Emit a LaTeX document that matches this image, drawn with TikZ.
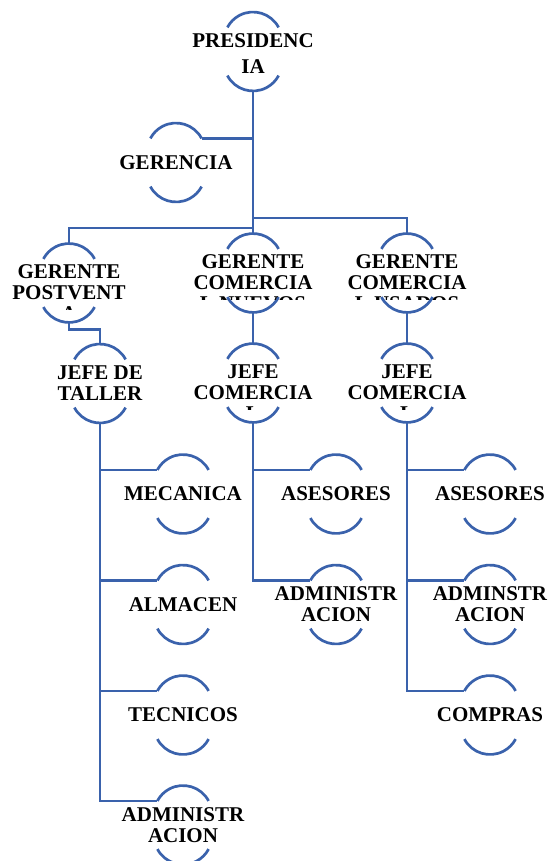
\documentclass[tikz,border=0pt]{standalone}
\usepackage{fontspec}
\setmainfont{Liberation Serif}
\definecolor{orgblue}{HTML}{3A62AC}
\begin{document}
\begin{tikzpicture}[x=1pt,y=1pt,
  orgline/.style={draw=orgblue, line width=2.7pt},
  orgshape/.style={minimum width=58pt, minimum height=79pt, inner sep=0pt, outer sep=0pt},
  orgtext/.style={font=\fontsize{21}{21}\selectfont\bfseries, align=center, inner sep=0pt, text=black}]
\clip (0,0) rectangle (551,-861);
% shapes
\node[orgshape] (pres) at (253,-51.5) {};
\node[orgshape] (ger)  at (176,-162.5) {};
\node[orgshape] (gpv)  at (69,-283) {};
\node[orgshape] (gcn)  at (253,-273) {};
\node[orgshape] (gcu)  at (407,-273) {};
\node[orgshape] (jt)   at (100,-383.5) {};
\node[orgshape] (jcn)  at (253,-383) {};
\node[orgshape] (jcu)  at (407,-383) {};
\node[orgshape] (mec)  at (183,-494) {};
\node[orgshape] (alm)  at (183,-604.5) {};
\node[orgshape] (tec)  at (183,-715) {};
\node[orgshape] (adt)  at (183,-825) {};
\node[orgshape] (asn)  at (336,-494) {};
\node[orgshape] (adn)  at (336,-604.5) {};
\node[orgshape] (asu)  at (490,-494) {};
\node[orgshape] (adu)  at (490,-604.5) {};
\node[orgshape] (com)  at (490,-715) {};
\foreach \n in {pres,ger,gpv,gcn,gcu,jt,jcn,jcu,mec,alm,tec,adt,asn,adn,asu,adu,com}{
  \coordinate (\n-tl) at ([shift={(-25.6,24.1)}]\n.center);
  \coordinate (\n-tr) at ([shift={(25.6,24.1)}]\n.center);
  \draw[orgline] (\n-tr) arc[start angle=28,end angle=152,radius=29];
  \draw[orgline] ([shift={(-25.6,-24.1)}]\n.center) arc[start angle=208,end angle=332,radius=29];
}
% bar junctions
\coordinate (barL) at (253,-228);
\coordinate (barR) at (253,-218);
% connectors
\draw[orgline] (pres.south) -- (gcn.north);
\draw[orgline] (ger-tr) -- (ger-tr -| pres.south);
\draw[orgline] (gpv.north) |- (barL);
\draw[orgline] (gcu.north) |- (barR);
\draw[orgline] (gpv.south) -- ++(0,-7) -| (jt.north);
\draw[orgline] (gcn.south) -- (jcn.north);
\draw[orgline] (gcu.south) -- (jcu.north);
\draw[orgline] (jt.south) |- (mec-tl);
\draw[orgline] (jt.south) |- (alm-tl);
\draw[orgline] (jt.south) |- (tec-tl);
\draw[orgline] (jt.south) |- (adt-tl);
\draw[orgline] (jcn.south) |- (asn-tl);
\draw[orgline] (jcn.south) |- (adn-tl);
\draw[orgline] (jcu.south) |- (asu-tl);
\draw[orgline] (jcu.south) |- (adu-tl);
\draw[orgline] (jcu.south) |- (com-tl);
% texts
\node[orgtext, font=\fontsize{21}{26}\selectfont\bfseries] (pres-t) at ([yshift=-2.5]pres.center) {PRESIDENC\\IA};
\node[orgtext] (ger-t) at (ger.center) {GERENCIA};
\node[orgtext] (jt-t)  at (jt.center) {JEFE DE\\TALLER};
\node[orgtext] (mec-t) at (mec.center) {MECANICA};
\node[orgtext] (alm-t) at (alm.center) {ALMACEN};
\node[orgtext] (tec-t) at (tec.center) {TECNICOS};
\node[orgtext] (adt-t) at (adt.center) {ADMINISTR\\ACION};
\node[orgtext] (asn-t) at (asn.center) {ASESORES};
\node[orgtext] (adn-t) at (adn.center) {ADMINISTR\\ACION};
\node[orgtext] (asu-t) at (asu.center) {ASESORES};
\node[orgtext] (adu-t) at (adu.center) {ADMINSTR\\ACION};
\node[orgtext] (com-t) at (com.center) {COMPRAS};
% overflowing texts, clipped
\begin{scope}
  \clip ([shift={(-90,45)}]gpv.center) rectangle ([shift={(90,-26)}]gpv.center);
  \node[orgtext] (gpv-t) at ([yshift=-10]gpv.center) {GERENTE\\POSTVENT\\A};
\end{scope}
\begin{scope}
  \clip ([shift={(-90,45)}]gcn.center) rectangle ([shift={(90,-26)}]gcn.center);
  \node[orgtext] (gcn-t) at ([yshift=-10]gcn.center) {GERENTE\\COMERCIA\\L NUEVOS};
\end{scope}
\begin{scope}
  \clip ([shift={(-90,45)}]gcu.center) rectangle ([shift={(90,-26)}]gcu.center);
  \node[orgtext] (gcu-t) at ([yshift=-10]gcu.center) {GERENTE\\COMERCIA\\L USADOS};
\end{scope}
\begin{scope}
  \clip ([shift={(-90,45)}]jcn.center) rectangle ([shift={(90,-26)}]jcn.center);
  \node[orgtext] (jcn-t) at ([yshift=-10]jcn.center) {JEFE\\COMERCIA\\L};
\end{scope}
\begin{scope}
  \clip ([shift={(-90,45)}]jcu.center) rectangle ([shift={(90,-26)}]jcu.center);
  \node[orgtext] (jcu-t) at ([yshift=-10]jcu.center) {JEFE\\COMERCIA\\L};
\end{scope}
\end{tikzpicture}
\end{document}
